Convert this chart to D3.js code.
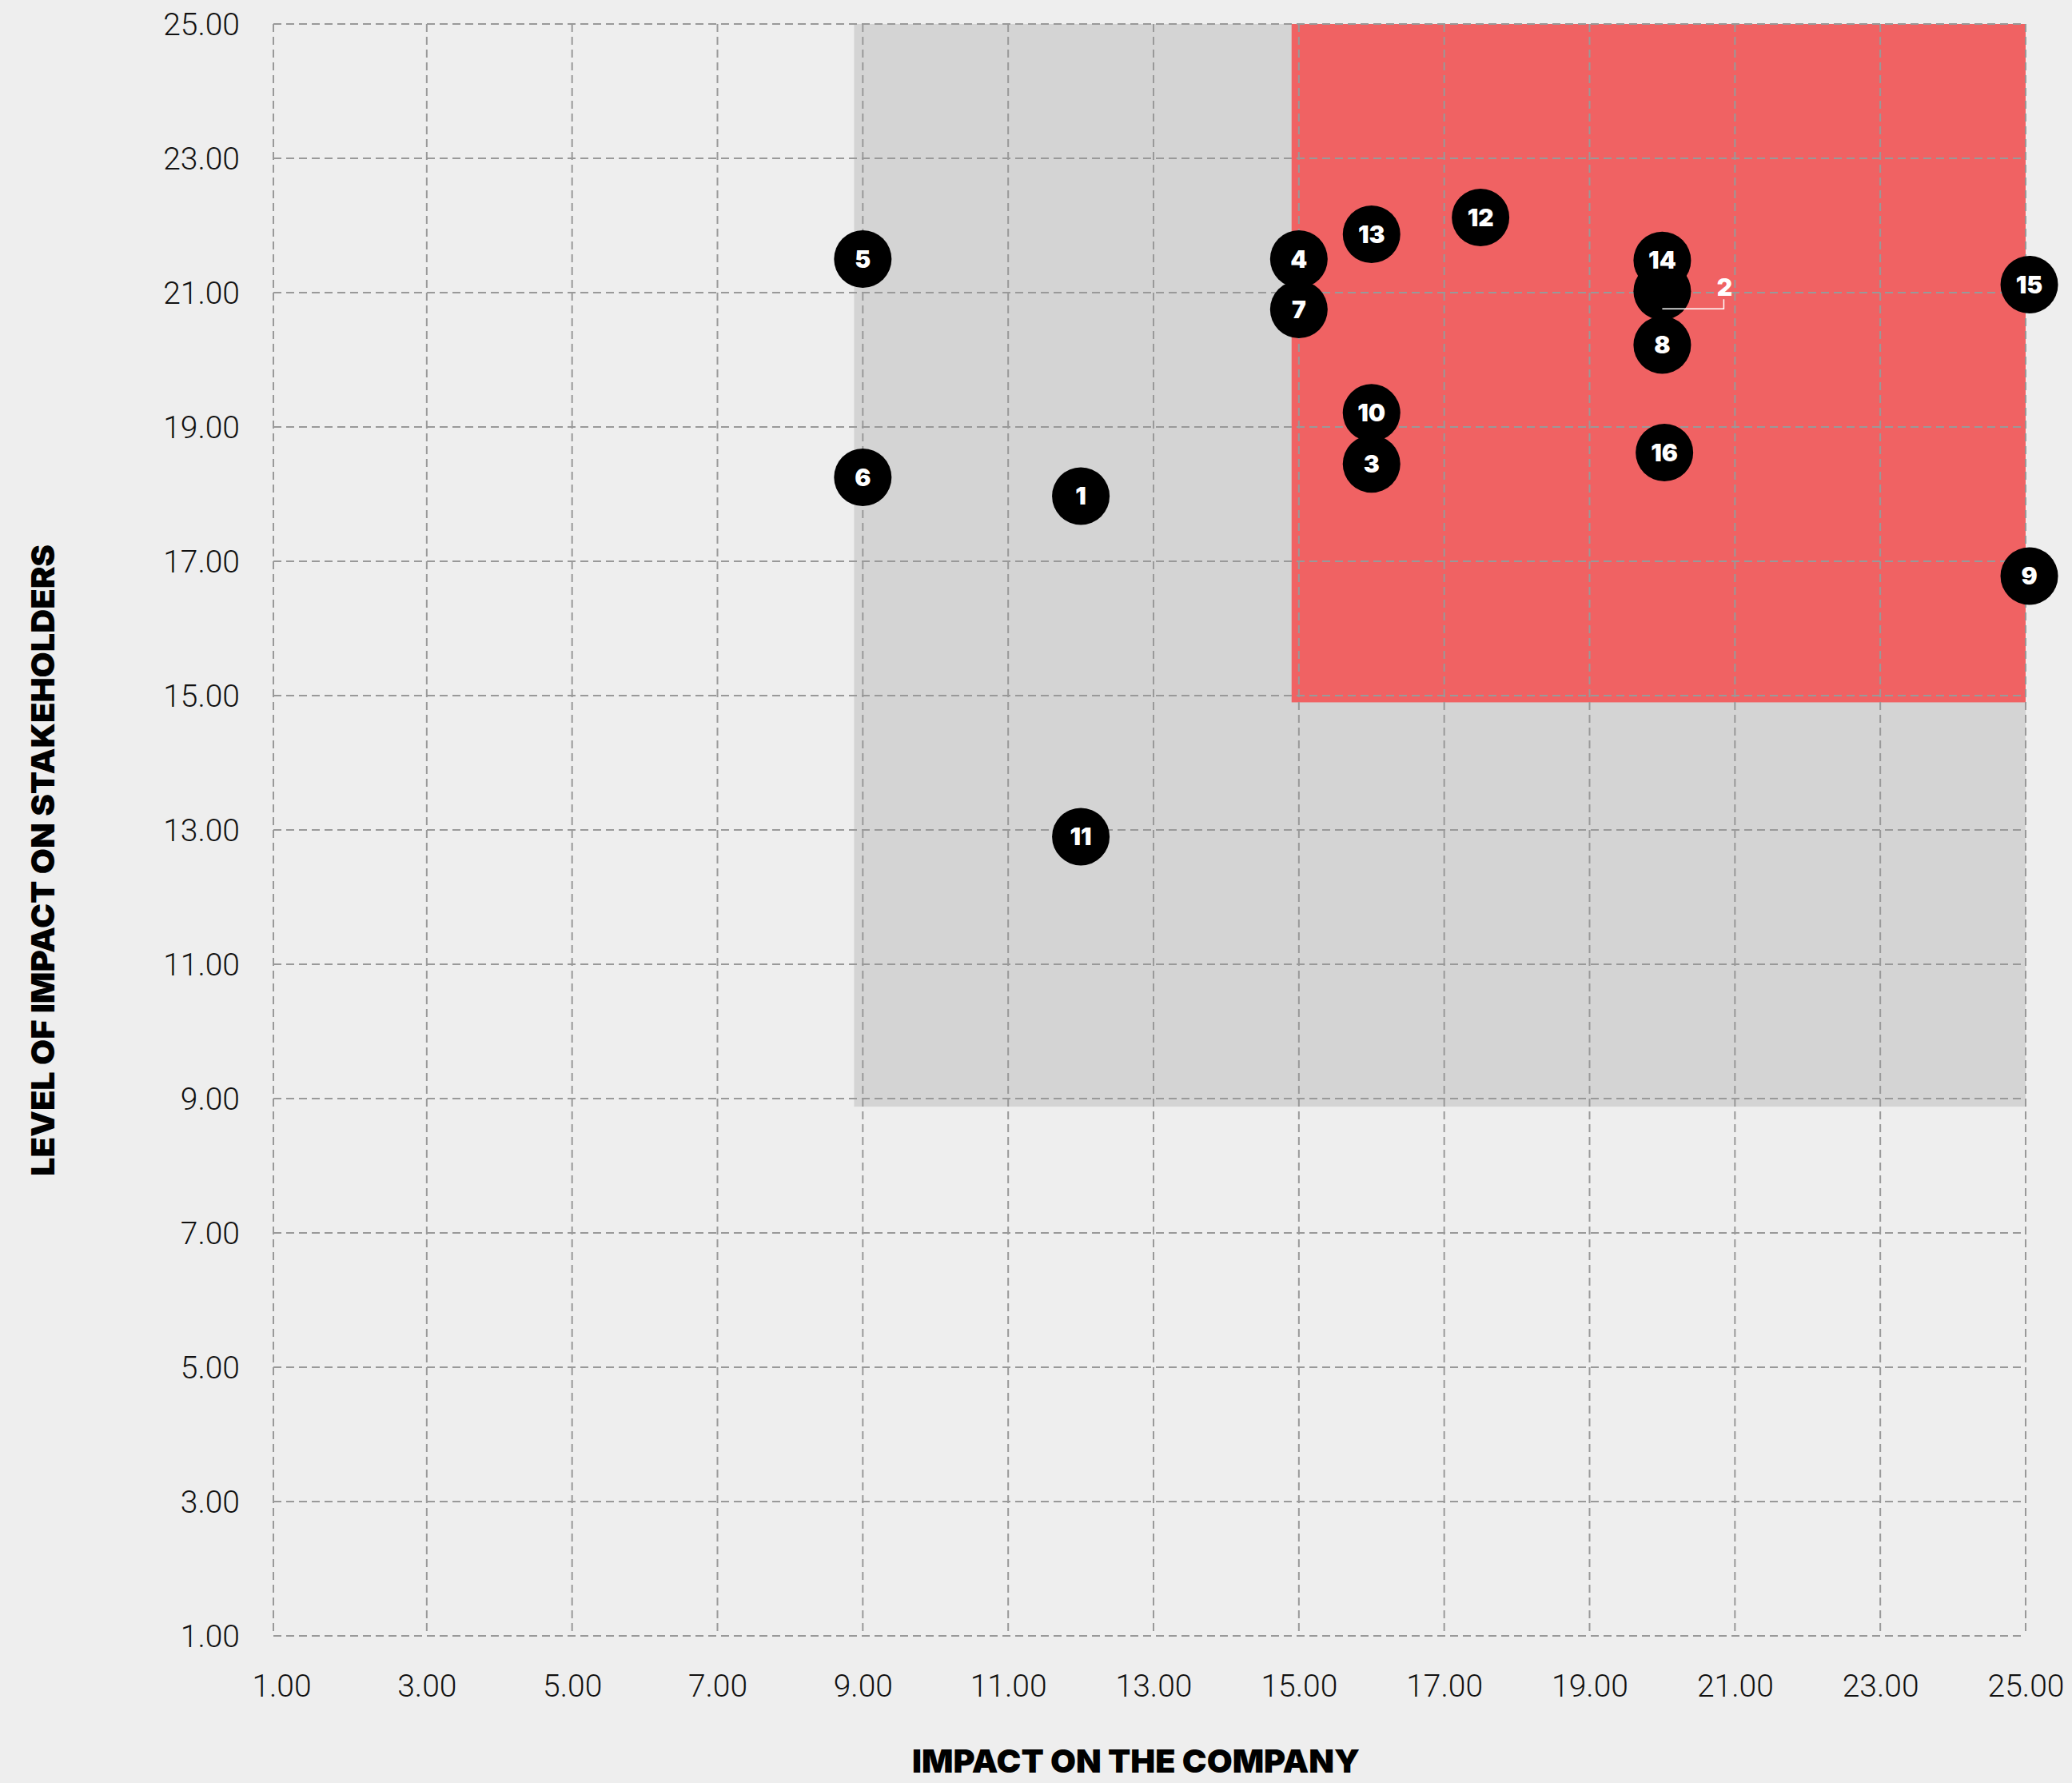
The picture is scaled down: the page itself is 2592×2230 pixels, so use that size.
<!DOCTYPE html>
<html>
<head>
  <title>Materiality matrix</title>
  <style>
  html, body { margin:0; padding:0; background:#eeeeee; }
  svg { display:block; }
  .tick-label { font-family: Roboto, "Liberation Sans", sans-serif; font-weight: 300; font-size: 39px; fill:#111; }
  .axis-title { font-family: Inter, Roboto, sans-serif; font-weight: 900; font-size: 40px; fill:#000; }
  .bubble-label { font-family: Inter, Lato, sans-serif; font-weight: 900; font-size: 30px; fill:#fff; }
  </style>
  <script src="https://d3js.org/d3.v7.min.js"></script>
</head>
<body>
<svg id="chart"></svg>

<script>
// issues (bubble numbers) and their scores
var issueIds = [1, 2, 3, 4, 5, 6, 7, 8, 9, 10, 11, 12, 13, 14, 15, 16];
var companyImpact = [12, 20, 16, 15, 9, 9, 15, 20, 25.05, 16, 12, 17.5, 16, 20, 25.05, 20.03];
var stakeholderImpact = [17.97, 21.02, 18.45, 21.5, 21.5, 18.25, 20.75, 20.22, 16.78, 19.21, 12.9, 22.12, 21.87, 21.48, 21.12, 18.62];

// issues whose number is written outside the bubble
var calloutIds = [2];

var tickValues = [1, 3, 5, 7, 9, 11, 13, 15, 17, 19, 21, 23, 25];

// shaded zones: [x from, y from] up to 25
var zoneNames = ["relevant", "material"];
var zoneStart = [8.88, 14.9];
var zoneColors = ["#d4d4d4", "#f06263"];

var xTitle = "IMPACT ON THE COMPANY";
var yTitle = "LEVEL OF IMPACT ON STAKEHOLDERS";

var width = 2592,
    height = 2230;

var svg = d3.select("#chart")
    .attr("width", width)
    .attr("height", height);

svg.append("rect")
    .attr("width", width)
    .attr("height", height)
    .attr("fill", "#eeeeee");

var x = d3.scaleLinear().domain([0.89, 25]).range([342, 2534]);
var y = d3.scaleLinear().domain([1, 25]).range([2046, 30]);
var fmt = d3.format(".2f");

// zones
svg.append("g").selectAll("rect")
    .data(zoneNames)
  .enter().append("rect")
    .attr("x", function(d, i) { return x(zoneStart[i]); })
    .attr("y", y(25))
    .attr("width", function(d, i) { return x(25) - x(zoneStart[i]); })
    .attr("height", function(d, i) { return y(zoneStart[i]) - y(25); })
    .attr("fill", function(d, i) { return zoneColors[i]; });

// grid
var grid = svg.append("g")
    .attr("stroke", "#999")
    .attr("stroke-width", 2)
    .attr("stroke-dasharray", "10,6");

grid.selectAll(".h")
    .data(tickValues)
  .enter().append("line")
    .attr("x1", x.range()[0])
    .attr("x2", x(25))
    .attr("y1", function(d) { return y(d); })
    .attr("y2", function(d) { return y(d); });

// left border sits at the start of the range, the 1.00 column has no line
grid.selectAll(".v")
    .data([x.domain()[0]].concat(tickValues.slice(1)))
  .enter().append("line")
    .attr("x1", function(d) { return x(d); })
    .attr("x2", function(d) { return x(d); })
    .attr("y1", y(25))
    .attr("y2", y(1));

// axes
var xAxis = svg.append("g")
    .attr("transform", "translate(0," + (y(1) + 63) + ")")
    .call(d3.axisBottom(x).tickValues(tickValues).tickFormat(fmt).tickSize(0).tickPadding(0));
xAxis.select(".domain").remove();
xAxis.selectAll("text").attr("class", "tick-label").attr("dy", 0).attr("y", 0)
    .attr("dominant-baseline", "central");

var yAxis = svg.append("g")
    .attr("transform", "translate(300,0)")
    .call(d3.axisLeft(y).tickValues(tickValues).tickFormat(fmt).tickSize(0).tickPadding(0));
yAxis.select(".domain").remove();
yAxis.selectAll("text").attr("class", "tick-label").attr("dy", 0).attr("x", 0)
    .attr("dominant-baseline", "central");

// axis titles
svg.append("text")
    .attr("class", "axis-title")
    .attr("x", 1141)
    .attr("y", 2217)
    .attr("textLength", 560)
    .attr("lengthAdjust", "spacingAndGlyphs")
    .text(xTitle);

svg.append("text")
    .attr("class", "axis-title")
    .attr("transform", "translate(68,1471) rotate(-90)")
    .attr("textLength", 790)
    .attr("lengthAdjust", "spacingAndGlyphs")
    .text(yTitle);

// bubbles
var r = 36;
var points = issueIds.map(function(id, i) {
  return { id: id, cx: x(companyImpact[i]), cy: y(stakeholderImpact[i]) };
});

var bubbles = svg.append("g").selectAll("g")
    .data(points)
  .enter().append("g")
    .attr("transform", function(d) { return "translate(" + d.cx + "," + d.cy + ")"; });

bubbles.append("circle")
    .attr("r", r)
    .attr("fill", "#000");

bubbles.filter(function(d) { return calloutIds.indexOf(d.id) < 0; })
  .append("text")
    .attr("class", "bubble-label")
    .attr("text-anchor", "middle")
    .attr("dy", "0.36em")
    .text(function(d) { return d.id; });

// callout for the hidden bubble
var callouts = svg.append("g").selectAll("g")
    .data(points.filter(function(d) { return calloutIds.indexOf(d.id) >= 0; }))
  .enter().append("g")
    .attr("transform", function(d) { return "translate(" + d.cx + "," + d.cy + ")"; });

callouts.append("polyline")
    .attr("points", "0,22 77,22 77,10")
    .attr("fill", "none")
    .attr("stroke", "#fff")
    .attr("stroke-width", 1.5);

callouts.append("text")
    .attr("class", "bubble-label")
    .attr("text-anchor", "middle")
    .attr("x", 78)
    .attr("y", 6)
    .text(function(d) { return d.id; });
</script>
</body>
</html>
